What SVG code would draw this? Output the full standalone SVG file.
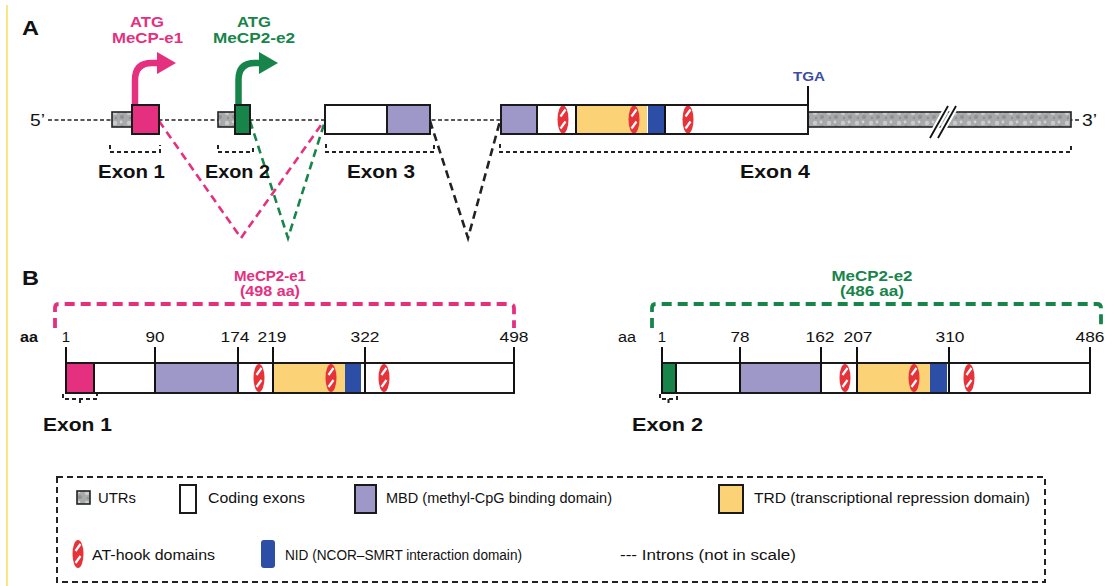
<svg xmlns="http://www.w3.org/2000/svg" width="1113" height="586" viewBox="0 0 1113 586">
<defs>
<style>
text{font-family:"Liberation Sans",Arial,sans-serif;fill:#111}
.b{font-weight:bold}
.lab{font-size:18px;font-weight:bold}
.num{font-size:15px}
.leg{font-size:14px}
.pk{fill:#e5307f;font-weight:bold;font-size:14px}
.gr{fill:#17854a;font-weight:bold;font-size:14px}
.box{stroke:#1a1a1a;stroke-width:2}
.utr{fill:url(#utrpat);stroke:#222;stroke-width:1.6}
.bb{stroke:#222;stroke-width:1.3;stroke-dasharray:4 2.5;fill:none}
.brk{stroke:#222;stroke-width:2;stroke-dasharray:4 3;fill:none}
.spl{stroke-width:2.6;stroke-dasharray:8 5;fill:none}
.tick{stroke:#111;stroke-width:2}
</style>
<pattern id="utrpat" width="14" height="10" patternUnits="userSpaceOnUse">
<rect width="14" height="10" fill="#a7a9ab"/>
<circle cx="3" cy="3" r="2.2" fill="#c9cbcc"/>
<circle cx="10" cy="7" r="2" fill="#8e9093"/>
<circle cx="9" cy="2" r="1.4" fill="#d2d3d4"/>
<circle cx="4" cy="8" r="1.2" fill="#909295"/>
</pattern>
<g id="athook">
<ellipse cx="0" cy="0" rx="5.5" ry="14" fill="#e8323a"/>
<path d="M-2.5,-3 L2.5,-10 M-2.5,9 L2.5,2" stroke="#fff" stroke-width="2.2"/>
</g>
</defs>
<rect width="1113" height="586" fill="#fff"/>
<line x1="7" y1="5" x2="7" y2="586" stroke="#f5e15a" stroke-width="1.5"/>

<!-- Panel A -->
<text x="22" y="35" class="b" font-size="20" textLength="17" lengthAdjust="spacingAndGlyphs">A</text>
<text x="30" y="126" font-size="17" textLength="15" lengthAdjust="spacingAndGlyphs">5’</text>
<text x="1082" y="126" font-size="17" textLength="15" lengthAdjust="spacingAndGlyphs">3’</text>

<g id="connectors">
<line x1="48" y1="120" x2="1080" y2="120" class="bb"/>
<path d="M159,121 L241,238 L324,121" class="spl" stroke="#e5307f"/>
<path d="M250,121 L288,238 L325,121" class="spl" stroke="#17854a"/>
<path d="M430,121 L468,238 L500,121" class="spl" stroke="#222"/>
</g>

<g id="promoter-e1">
<path d="M135,105 V80 Q135,63 152,63 H160" fill="none" stroke="#e5307f" stroke-width="6.5"/>
<path d="M157,52 L176,63 L157,74 Z" fill="#e5307f"/>
<text x="147" y="27" class="pk" text-anchor="middle" textLength="34" lengthAdjust="spacingAndGlyphs">ATG</text>
<text x="147.5" y="43" class="pk" text-anchor="middle" textLength="71" lengthAdjust="spacingAndGlyphs">MeCP-e1</text>
</g>
<g id="promoter-e2">
<path d="M238.5,105 V80 Q238.5,63 255,63 H262" fill="none" stroke="#17854a" stroke-width="6.5"/>
<path d="M259,52 L278,63 L259,74 Z" fill="#17854a"/>
<text x="254" y="27" class="gr" text-anchor="middle" textLength="34" lengthAdjust="spacingAndGlyphs">ATG</text>
<text x="254" y="43" class="gr" text-anchor="middle" textLength="82" lengthAdjust="spacingAndGlyphs">MeCP2-e2</text>
</g>

<g id="exon1">
<rect x="112" y="112" width="20" height="15" class="utr"/>
<rect x="132" y="105" width="27" height="29" fill="#e5307f" class="box"/>
<path d="M110,145 V152 H160 V145" class="brk"/>
<text x="131.5" y="178" class="lab" text-anchor="middle" textLength="67" lengthAdjust="spacingAndGlyphs">Exon 1</text>
</g>
<g id="exon2">
<rect x="218" y="112" width="17" height="15" class="utr"/>
<rect x="235" y="105" width="15" height="29" fill="#17854a" class="box"/>
<path d="M218,145 V152 H253 V145" class="brk"/>
<text x="237.5" y="178" class="lab" text-anchor="middle" textLength="65" lengthAdjust="spacingAndGlyphs">Exon 2</text>
</g>
<g id="exon3">
<rect x="325" y="105" width="62" height="29" fill="#fff" class="box"/>
<rect x="387" y="105" width="43" height="29" fill="#9d98c8" class="box"/>
<path d="M326,144 V152 H434 V144" class="brk"/>
<text x="381" y="178" class="lab" text-anchor="middle" textLength="68" lengthAdjust="spacingAndGlyphs">Exon 3</text>
</g>
<g id="exon4">
<rect x="808" y="112" width="263" height="15" class="utr"/>
<line x1="930" y1="138" x2="948" y2="106" stroke="#fff" stroke-width="6"/>
<line x1="938" y1="138" x2="956" y2="106" stroke="#fff" stroke-width="6"/>
<line x1="930" y1="138" x2="948" y2="106" stroke="#111" stroke-width="1.8"/>
<line x1="938" y1="138" x2="956" y2="106" stroke="#111" stroke-width="1.8"/>
<rect x="501" y="105" width="307" height="29" fill="#fff" class="box"/>
<rect x="501" y="105" width="36" height="29" fill="#9d98c8" class="box"/>
<rect x="576" y="106" width="71" height="27" fill="#fcd277"/>
<line x1="576" y1="105" x2="576" y2="134" class="tick"/>
<rect x="648" y="106" width="16" height="27" fill="#2c4ea6"/>
<line x1="665" y1="105" x2="665" y2="134" class="tick"/>
<use href="#athook" x="563" y="119.5"/>
<use href="#athook" x="634" y="119.5"/>
<use href="#athook" x="688" y="119.5"/>
<rect x="501" y="105" width="307" height="29" fill="none" class="box"/>
<line x1="808" y1="86" x2="808" y2="105" class="tick"/>
<text x="809" y="81" font-size="13" class="b" fill="#3b4ea0" style="fill:#3b4ea0" text-anchor="middle" textLength="32" lengthAdjust="spacingAndGlyphs">TGA</text>
<path d="M500,144 V152 H1071 V144" class="brk"/>
<text x="775" y="178" class="lab" text-anchor="middle" textLength="70" lengthAdjust="spacingAndGlyphs">Exon 4</text>
</g>

<!-- Panel B -->
<text x="22" y="285" class="b" font-size="20" textLength="17" lengthAdjust="spacingAndGlyphs">B</text>

<g id="isoform-e1">
<text x="270" y="281" class="pk" text-anchor="middle" textLength="72" lengthAdjust="spacingAndGlyphs">MeCP2-e1</text>
<text x="270" y="296" class="pk" text-anchor="middle" textLength="60" lengthAdjust="spacingAndGlyphs">(498 aa)</text>
<path d="M55,328 V308 Q55,304 59,304 H510 Q514,304 514,308 V328" fill="none" stroke="#e5307f" stroke-width="3.8" stroke-dasharray="10 6"/>
<text x="20" y="342" class="b" font-size="14" textLength="18" lengthAdjust="spacingAndGlyphs">aa</text>
<rect x="66" y="363" width="448" height="30" fill="#fff" class="box"/>
<rect x="66" y="364" width="28" height="28" fill="#e5307f"/>
<line x1="94" y1="363" x2="94" y2="393" class="tick"/>
<rect x="155" y="364" width="83" height="28" fill="#9d98c8"/>
<rect x="273" y="364" width="72" height="28" fill="#fcd277"/>
<rect x="345" y="364" width="16" height="28" fill="#2c4ea6"/>
<use href="#athook" x="259" y="378"/>
<use href="#athook" x="331" y="378"/>
<use href="#athook" x="384" y="378"/>
<rect x="66" y="363" width="448" height="30" fill="none" class="box"/>
<line x1="66" y1="347" x2="66" y2="393" class="tick"/>
<line x1="155" y1="347" x2="155" y2="393" class="tick"/>
<line x1="238" y1="347" x2="238" y2="393" class="tick"/>
<line x1="273" y1="347" x2="273" y2="393" class="tick"/>
<line x1="365" y1="347" x2="365" y2="393" class="tick"/>
<line x1="514" y1="347" x2="514" y2="393" class="tick"/>
<text x="66" y="342" class="num" text-anchor="middle">1</text>
<text x="155" y="342" class="num" text-anchor="middle" textLength="19" lengthAdjust="spacingAndGlyphs">90</text>
<text x="235" y="342" class="num" text-anchor="middle" textLength="29" lengthAdjust="spacingAndGlyphs">174</text>
<text x="272" y="342" class="num" text-anchor="middle" textLength="29" lengthAdjust="spacingAndGlyphs">219</text>
<text x="365" y="342" class="num" text-anchor="middle" textLength="29" lengthAdjust="spacingAndGlyphs">322</text>
<text x="514" y="342" class="num" text-anchor="middle" textLength="29" lengthAdjust="spacingAndGlyphs">498</text>
<path d="M63,394 V399 H97 V394 M80,399 V405" class="brk" stroke-width="1.6" stroke-dasharray="3 2"/>
<text x="77.5" y="431" class="lab" text-anchor="middle" textLength="69" lengthAdjust="spacingAndGlyphs">Exon 1</text>
</g>

<g id="isoform-e2">
<text x="872" y="281" class="gr" text-anchor="middle" textLength="81" lengthAdjust="spacingAndGlyphs">MeCP2-e2</text>
<text x="872" y="296" class="gr" text-anchor="middle" textLength="64" lengthAdjust="spacingAndGlyphs">(486 aa)</text>
<path d="M652,328 V308 Q652,304 656,304 H1097 Q1101,304 1101,308 V328" fill="none" stroke="#17854a" stroke-width="3.8" stroke-dasharray="10 6"/>
<text x="618" y="342" font-size="14" textLength="18" lengthAdjust="spacingAndGlyphs">aa</text>
<rect x="662" y="363" width="428" height="30" fill="#fff" class="box"/>
<rect x="662" y="364" width="14" height="28" fill="#17854a"/>
<line x1="676" y1="363" x2="676" y2="393" class="tick"/>
<rect x="740" y="364" width="81" height="28" fill="#9d98c8"/>
<rect x="857" y="364" width="73" height="28" fill="#fcd277"/>
<rect x="930" y="364" width="17" height="28" fill="#2c4ea6"/>
<use href="#athook" x="845" y="378"/>
<use href="#athook" x="914" y="378"/>
<use href="#athook" x="969" y="378"/>
<rect x="662" y="363" width="428" height="30" fill="none" class="box"/>
<line x1="662" y1="347" x2="662" y2="393" class="tick"/>
<line x1="740" y1="347" x2="740" y2="393" class="tick"/>
<line x1="821" y1="347" x2="821" y2="393" class="tick"/>
<line x1="857" y1="347" x2="857" y2="393" class="tick"/>
<line x1="949" y1="347" x2="949" y2="393" class="tick"/>
<line x1="1090" y1="347" x2="1090" y2="393" class="tick"/>
<text x="662" y="342" class="num" text-anchor="middle">1</text>
<text x="740" y="342" class="num" text-anchor="middle" textLength="19" lengthAdjust="spacingAndGlyphs">78</text>
<text x="820" y="342" class="num" text-anchor="middle" textLength="29" lengthAdjust="spacingAndGlyphs">162</text>
<text x="858" y="342" class="num" text-anchor="middle" textLength="29" lengthAdjust="spacingAndGlyphs">207</text>
<text x="950" y="342" class="num" text-anchor="middle" textLength="29" lengthAdjust="spacingAndGlyphs">310</text>
<text x="1090" y="342" class="num" text-anchor="middle" textLength="29" lengthAdjust="spacingAndGlyphs">486</text>
<path d="M660,394 V399 H677 V394 M668.5,399 V405" class="brk" stroke-width="1.6" stroke-dasharray="3 2"/>
<text x="667.5" y="431" class="lab" text-anchor="middle" textLength="71" lengthAdjust="spacingAndGlyphs">Exon 2</text>
</g>

<!-- Legend -->
<g id="legend">
<rect x="57" y="477" width="988" height="105" fill="none" stroke="#222" stroke-width="2" stroke-dasharray="6 4"/>
<rect x="77" y="491" width="13" height="13" class="utr"/>
<text x="98" y="503" class="leg" textLength="38" lengthAdjust="spacingAndGlyphs">UTRs</text>
<rect x="180" y="485" width="16" height="28" fill="#fff" class="box"/>
<text x="208" y="503" class="leg" textLength="97" lengthAdjust="spacingAndGlyphs">Coding exons</text>
<rect x="355" y="485" width="21" height="28" fill="#9d98c8" class="box"/>
<text x="386" y="503" class="leg" textLength="226" lengthAdjust="spacingAndGlyphs">MBD (methyl-CpG binding domain)</text>
<rect x="719" y="485" width="24" height="28" fill="#fcd277" class="box"/>
<text x="754" y="503" class="leg" textLength="276" lengthAdjust="spacingAndGlyphs">TRD (transcriptional repression domain)</text>
<use href="#athook" x="78" y="554"/>
<text x="92" y="560" class="leg" textLength="123" lengthAdjust="spacingAndGlyphs">AT-hook domains</text>
<rect x="261" y="540" width="14" height="28" rx="3" fill="#2c4ea6"/>
<text x="285" y="560" class="leg" textLength="237" lengthAdjust="spacingAndGlyphs">NID (NCOR–SMRT interaction domain)</text>
<text x="620" y="560" class="leg" textLength="176" lengthAdjust="spacingAndGlyphs">--- Introns (not in scale)</text>
</g>
</svg>
